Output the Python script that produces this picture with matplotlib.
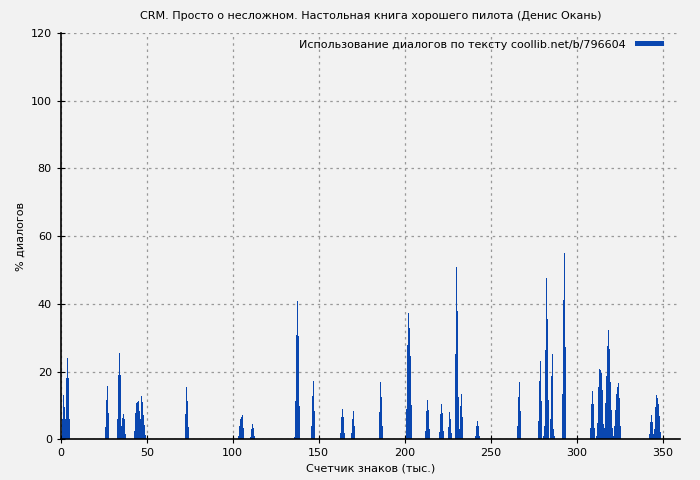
import matplotlib
matplotlib.use("Agg")
import matplotlib.pyplot as plt
import numpy as np

step = 0.58
group_starts = [0.4, 25.6, 32.6, 42.4, 72.1, 102.9, 109.9, 135.5, 145.3, 162.2, 168.6,
                184.9, 200.6, 211.6, 219.8, 225.0, 229.1, 240.7, 265.1, 277.3, 291.3,
                308.1, 342.4]
group_values = [
    [6, 13, 9.5, 6, 18, 24, 18, 6],
    [3.6, 11.5, 15.7, 7.7],
    [5.9, 19, 25.5, 19, 3.8, 6.2, 7.4, 5.9, 1.5],
    [2.4, 7.7, 10.6, 11, 11.2, 8.3, 5.9, 12.7, 11, 7.1, 4.1, 1.2],
    [7.4, 15.4, 11.2, 3.5],
    [0.9, 3.8, 5.9, 6.5, 7.1, 3.3],
    [0.6, 3, 4.4, 3.3, 0.9],
    [0.6, 11.2, 30.7, 40.8, 30.4, 9.8],
    [3.8, 12.7, 17.1, 8.3],
    [1.8, 6.5, 8.9, 6.5, 1.8],
    [1.8, 5.9, 8.3, 3.8],
    [8, 16.8, 12.4, 3.8],
    [8.9, 27.8, 37.2, 32.8, 24.5, 10],
    [2.4, 8.3, 11.5, 8.5, 3],
    [2.1, 7.4, 10.3, 7.7, 2.4],
    [3.5, 8, 5.9, 1.8],
    [25.1, 51, 37.8, 12.4, 3, 9.8, 13.3, 6.5],
    [0.9, 3.8, 5.3, 3.8, 0.9],
    [3.8, 12.4, 16.8, 8.3],
    [5.3, 17.1, 23, 11.2, 0, 0.9, 3.8, 26.3, 47.6, 35.5, 11.5, 0, 5.9, 18.6, 25.1, 14.5, 3, 0.9],
    [13.3, 41.1, 55, 27.2],
    [3.3, 10.3, 14.2, 10.3, 3.3, 0, 0.9, 4.7, 15.4, 20.7, 20.4, 19.5, 14.5, 4.4, 3.3, 10.6,
     18.6, 27.5, 32.2, 26.6, 16.8, 8.6, 3.3, 0.9, 3.8, 8.6, 13.3, 15.4, 16.6, 12.1, 3.8],
    [1.5, 5, 7.1, 5, 1.5, 3, 9.5, 13, 12.1, 10.3, 6.8, 2.1],
]

xs, ys = [], []
for s, vals in zip(group_starts, group_values):
    for i, v in enumerate(vals):
        xs.append(s + i * step)
        ys.append(v)

bg = "#f2f2f2"
fig = plt.figure(figsize=(7, 4.8), dpi=100, facecolor=bg)
ax = fig.add_axes([0.087, 0.085, 0.884, 0.846], facecolor=bg)
ax.bar(xs, ys, width=step, align="edge", color="#0a47b0", linewidth=0,
       label="Использование диалогов по тексту coollib.net/b/796604")
ax.set_xlim(0, 360)
ax.set_ylim(0, 120)
ax.set_xticks(range(0, 351, 50))
ax.set_yticks(range(0, 121, 20))
ax.grid(True, color="#999999", linestyle=(0, (2, 3)), linewidth=0.9)
ax.set_axisbelow(True)
for side in ("top", "right"):
    ax.spines[side].set_visible(False)
for side in ("left", "bottom"):
    ax.spines[side].set_linewidth(1.2)
ax.tick_params(labelsize=8, direction="inout", length=6)
ax.set_xlabel("Счетчик знаков (тыс.)", fontsize=8)
ax.set_ylabel("% диалогов", fontsize=8)
ax.set_title("CRM. Просто о несложном. Настольная книга хорошего пилота (Денис Окань)",
             fontsize=8, pad=10)
leg = ax.legend(loc="upper right", fontsize=8, frameon=False, markerfirst=False,
                handlelength=2.6, handleheight=0.35, borderaxespad=0.2,
                bbox_to_anchor=(0.985, 1.0))
fig.savefig("out.png", dpi=100, facecolor=bg)
